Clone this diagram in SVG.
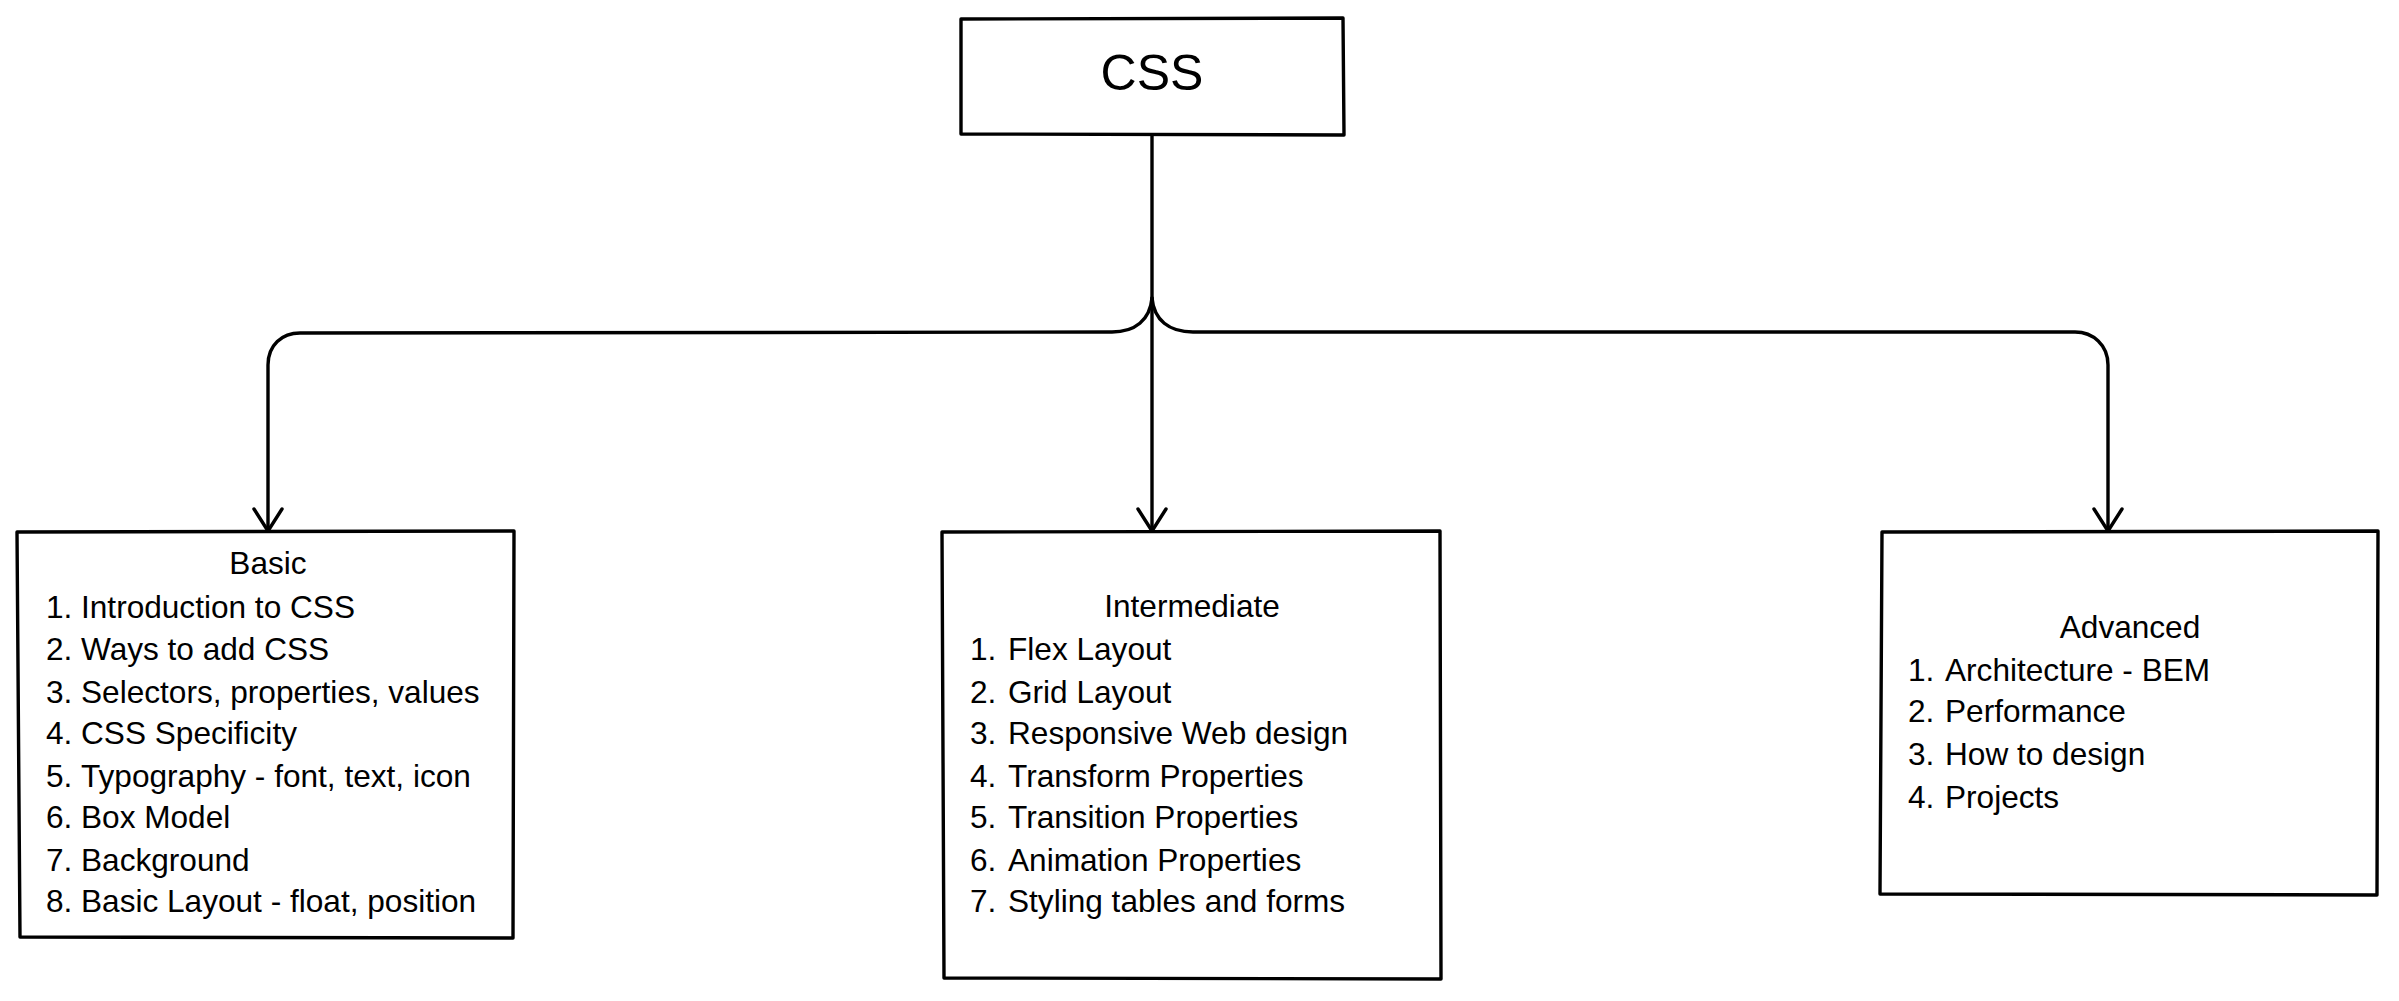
<svg xmlns="http://www.w3.org/2000/svg" width="2399" height="1001" viewBox="0 0 2399 1001">
<style>
.box{fill:#fff;stroke:#000;stroke-width:3.4;stroke-linejoin:round;stroke-linecap:round}
.ln{fill:none;stroke:#000;stroke-width:3.4;stroke-linecap:round;stroke-linejoin:round}
text{font-family:"Liberation Sans",Arial,Helvetica,sans-serif;fill:#000}
.t{font-size:31.6px}
.c{text-anchor:middle}
</style>
<rect width="2399" height="1001" fill="#fff"/>
<g id="connectors">
<path class="ln" d="M1152,135 L1152,531"/>
<path class="ln" d="M1152,298 C1150,320 1135,332 1112,332 L300,333 C282,333 268,345 268,365 L268,531"/>
<path class="ln" d="M1152,298 C1154,320 1169,332 1193,332 L2075,332 C2093,332 2108,345 2108,365 L2108,531"/>
<path class="ln" d="M254,509 L268,531 L282,509"/>
<path class="ln" d="M1138,509 L1152,531 L1166,509"/>
<path class="ln" d="M2094,509 L2108,531 L2122,509"/>
</g>
<g id="css">
<path class="box" d="M961,19 L1343,18 L1344,135 L961,134 Z"/>
<text class="c" x="1152" y="90" font-size="50">CSS</text>
</g>
<g id="basic">
<path class="box" d="M17,532 L514,531 L513,938 L20,937 Z"/>
<text class="t c" x="268" y="574">Basic</text>
<text class="t" x="46" y="618">1.</text><text class="t" x="81" y="618">Introduction to CSS</text>
<text class="t" x="46" y="660">2.</text><text class="t" x="81" y="660">Ways to add CSS</text>
<text class="t" x="46" y="703">3.</text><text class="t" x="81" y="703">Selectors, properties, values</text>
<text class="t" x="46" y="744">4.</text><text class="t" x="81" y="744">CSS Specificity</text>
<text class="t" x="46" y="787">5.</text><text class="t" x="81" y="787">Typography - font, text, icon</text>
<text class="t" x="46" y="828">6.</text><text class="t" x="81" y="828">Box Model</text>
<text class="t" x="46" y="871">7.</text><text class="t" x="81" y="871">Background</text>
<text class="t" x="46" y="912">8.</text><text class="t" x="81" y="912">Basic Layout - float, position</text>
</g>
<g id="intermediate">
<path class="box" d="M942,532 L1440,531 L1441,979 L944,978 Z"/>
<text class="t c" x="1192" y="617">Intermediate</text>
<text class="t" x="970" y="660">1.</text><text class="t" x="1008" y="660">Flex Layout</text>
<text class="t" x="970" y="703">2.</text><text class="t" x="1008" y="703">Grid Layout</text>
<text class="t" x="970" y="744">3.</text><text class="t" x="1008" y="744">Responsive Web design</text>
<text class="t" x="970" y="787">4.</text><text class="t" x="1008" y="787">Transform Properties</text>
<text class="t" x="970" y="828">5.</text><text class="t" x="1008" y="828">Transition Properties</text>
<text class="t" x="970" y="871">6.</text><text class="t" x="1008" y="871">Animation Properties</text>
<text class="t" x="970" y="912">7.</text><text class="t" x="1008" y="912">Styling tables and forms</text>
</g>
<g id="advanced">
<path class="box" d="M1882,532 L2378,531 L2377,895 L1880,894 Z"/>
<text class="t c" x="2130" y="638">Advanced</text>
<text class="t" x="1908" y="681">1.</text><text class="t" x="1945" y="681">Architecture - BEM</text>
<text class="t" x="1908" y="722">2.</text><text class="t" x="1945" y="722">Performance</text>
<text class="t" x="1908" y="765">3.</text><text class="t" x="1945" y="765">How to design</text>
<text class="t" x="1908" y="808">4.</text><text class="t" x="1945" y="808">Projects</text>
</g>
</svg>
